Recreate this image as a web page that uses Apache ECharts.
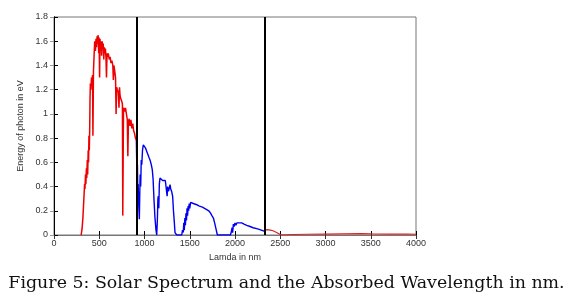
<!DOCTYPE html>
<html>
<head>
<meta charset="utf-8">
<script src="https://cdn.jsdelivr.net/npm/echarts@6/dist/echarts.min.js"></script>
<style>
html,body{margin:0;padding:0;background:#fff;}
#chart{width:573px;height:298px;}
</style>
</head>
<body>
<div id="chart"></div>
<script>
// Absorbed-band boundaries (nm)
var boundaries = [910, 2330];

// Red: visible part (below lower boundary)
var redVisLambda = [300,310,320,330,338,342,348,352,358,362,368,372,378,382,386,390,394,398,402,408,414,420,426,430,436,444,450,458,464,470,476,482,488,494,498,504,508,514,520,526,532,538,544,550,556,562,568,574,580,586,592,600,610,620,630,640,650,656,662,670,680,686,692,700,710,718,724,730,740,750,756,760,764,768,780,790,800,810,816,822,830,840,850,860,870,880,890,900,910];
var redVisValue  = [0,0.05,0.15,0.30,0.42,0.38,0.50,0.42,0.55,0.47,0.62,0.50,0.70,0.60,0.82,0.70,0.85,1.12,1.25,1.20,1.30,1.25,1.32,0.82,1.35,1.50,1.60,1.52,1.62,1.55,1.64,1.58,1.65,1.50,1.63,1.30,1.62,1.56,1.60,1.48,1.60,1.55,1.58,1.45,1.55,1.50,1.54,1.47,1.30,1.50,1.47,1.50,1.45,1.47,1.42,1.44,1.40,1.28,1.40,1.36,1.30,1.00,1.22,1.20,1.18,1.05,1.22,1.15,1.12,1.10,1.08,0.16,0.60,1.05,1.02,1.05,1.00,0.95,0.65,0.92,0.96,0.90,0.95,0.88,0.92,0.86,0.84,0.80,0.78];

// Blue: absorbed band
var blueLambda = [910,914,918,922,926,930,936,943,948,952,958,964,970,978,987,1000,1010,1020,1030,1040,1050,1061,1075,1086,1095,1105,1115,1127,1135,1142,1148,1153,1158,1164,1171,1180,1190,1200,1210,1220,1230,1240,1245,1250,1256,1264,1272,1282,1290,1300,1311,1320,1330,1337,1356,1411,1420,1428,1434,1440,1446,1452,1458,1464,1470,1476,1482,1488,1494,1500,1510,1521,1530,1540,1550,1560,1577,1600,1620,1640,1660,1687,1710,1730,1745,1761,1775,1790,1805,1950,1960,1968,1974,1982,1990,2000,2010,2020,2040,2074,2100,2130,2166,2200,2250,2290,2330];
var blueValue  = [0.78,0.60,0.45,0.58,0.35,0.42,0.25,0.13,0.35,0.50,0.40,0.62,0.58,0.70,0.745,0.73,0.72,0.70,0.68,0.66,0.64,0.62,0.58,0.54,0.46,0.29,0.15,0.04,0,0.12,0.30,0.32,0.22,0.42,0.47,0.46,0.47,0.45,0.46,0.44,0.45,0.46,0.45,0.32,0.40,0.36,0.38,0.415,0.38,0.36,0.32,0.20,0.10,0.02,0,0,0.04,0.02,0.10,0.04,0.14,0.08,0.18,0.12,0.22,0.16,0.24,0.20,0.26,0.22,0.27,0.28,0.27,0.26,0.255,0.25,0.25,0.24,0.235,0.23,0.22,0.21,0.20,0.18,0.16,0.14,0.10,0.05,0,0,0.03,0.06,0.02,0.09,0.07,0.10,0.08,0.10,0.095,0.10,0.09,0.08,0.07,0.06,0.05,0.04,0.03];

// Red: infrared tail (above upper boundary)
var redIrLambda = [2330,2345,2360,2375,2390,2405,2420,2440,2460,2480,2500,2550,2650,2800,3000,3200,3400,3500,3700,3900,4000];
var redIrValue  = [0.04,0.035,0.045,0.03,0.04,0.03,0.035,0.025,0.02,0.01,0.004,0.002,0.004,0.006,0.008,0.01,0.012,0.01,0.008,0.007,0.006];

// Axis ticks
var xTicks = [0,500,1000,1500,2000,2500,3000,3500,4000];
var yTicks = [0,0.2,0.4,0.6,0.8,1,1.2,1.4,1.6,1.8];

function zip(a,b){ return a.map(function(v,i){ return [v,b[i]]; }); }

var chart = echarts.init(document.getElementById('chart'), null, {renderer:'canvas'});
var tickFont = {fontFamily:'Liberation Sans', fontSize:9, color:'#333'};
var xMin = xTicks[0], xMax = xTicks[xTicks.length-1];
var yMin = yTicks[0], yMax = yTicks[yTicks.length-1];
var option = {
  animation:false,
  backgroundColor:'#fff',
  grid:{left:54, right:157, top:17, bottom:63, show:true, borderColor:'#777', borderWidth:1, backgroundColor:'transparent'},
  title:{
    text:'Figure 5: Solar Spectrum and the Absorbed Wavelength in nm.',
    left:'center', top:270,
    textStyle:{fontFamily:'DejaVu Serif', fontSize:17.4, fontWeight:'normal', color:'#111'}
  },
  xAxis:[{
    type:'value', min:xMin, max:xMax, interval:500,
    name:'Lamda in nm', nameLocation:'middle', nameGap:17,
    nameTextStyle:{fontFamily:'Liberation Sans', fontSize:9, color:'#333'},
    axisLine:{show:true, lineStyle:{color:'#000', width:1}},
    axisTick:{show:true, inside:true, length:4, lineStyle:{color:'#000'}},
    axisLabel:Object.assign({margin:4, formatter:function(v){return String(v);}}, tickFont),
    splitLine:{show:false}
  },{
    type:'value', position:'top', min:xMin, max:xMax, interval:500,
    axisLine:{show:true, lineStyle:{color:'#777', width:1}},
    axisTick:{show:true, inside:true, length:4, lineStyle:{color:'#333'}},
    axisLabel:{show:false}, splitLine:{show:false}
  }],
  yAxis:[{
    type:'value', min:yMin, max:yMax, interval:0.2,
    name:'Energy of photon in eV', nameLocation:'middle', nameGap:28, nameRotate:90,
    nameTextStyle:{fontFamily:'Liberation Sans', fontSize:9, color:'#333'},
    axisLine:{show:true, lineStyle:{color:'#000', width:1}},
    axisTick:{show:true, inside:true, length:4, lineStyle:{color:'#000'}},
    axisLabel:Object.assign({margin:6, formatter:function(v){return String(Math.round(v*10)/10);}}, tickFont),
    splitLine:{show:false}
  },{
    type:'value', position:'right', min:yMin, max:yMax, interval:0.2,
    axisLine:{show:true, lineStyle:{color:'#000', width:1}},
    axisTick:{show:true, inside:true, length:4, lineStyle:{color:'#999'}},
    axisLabel:{show:false}, splitLine:{show:false}
  }],
  series:[
    {type:'line', name:'visible', data:zip(redVisLambda, redVisValue), showSymbol:false,
     lineStyle:{color:'#ee0000', width:1.5}, z:3},
    {type:'line', name:'absorbed', data:zip(blueLambda, blueValue), showSymbol:false,
     lineStyle:{color:'#0000ee', width:1.4}, z:3},
    {type:'line', name:'ir', xAxisIndex:1, yAxisIndex:1, data:zip(redIrLambda, redIrValue), showSymbol:false,
     lineStyle:{color:'#dd2222', width:1.2}, z:3,
     markLine:{symbol:['none','none'], silent:true, label:{show:false},
       lineStyle:{color:'#000', width:2, type:'solid'},
       data: boundaries.map(function(b){ return {xAxis:b}; })}
    }
  ]
};
chart.setOption(option);
</script>
</body>
</html>
